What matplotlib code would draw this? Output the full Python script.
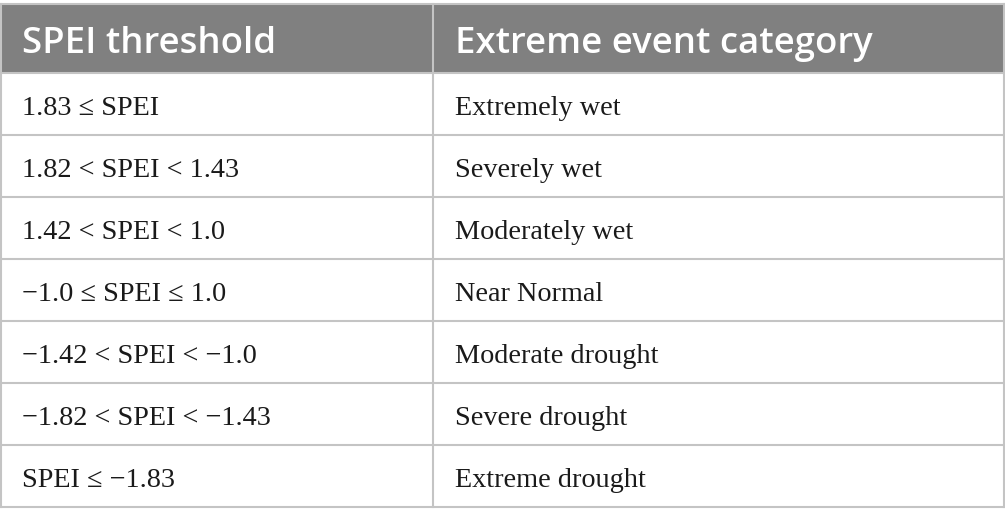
import matplotlib
matplotlib.use("Agg")
import matplotlib.pyplot as plt
from matplotlib.patches import Rectangle

headers = ["SPEI threshold", "Extreme event category"]
thresholds = [
    "1.83 \u2264 SPEI",
    "1.82 < SPEI < 1.43",
    "1.42 < SPEI < 1.0",
    "\u22121.0 \u2264 SPEI \u2264 1.0",
    "\u22121.42 < SPEI < \u22121.0",
    "\u22121.82 < SPEI < \u22121.43",
    "SPEI \u2264 \u22121.83",
]
categories = [
    "Extremely wet",
    "Severely wet",
    "Moderately wet",
    "Near Normal",
    "Moderate drought",
    "Severe drought",
    "Extreme drought",
]

W, H = 1005, 524
fig = plt.figure(figsize=(W / 100, H / 100), dpi=100)
ax = fig.add_axes([0, 0, 1, 1])
ax.set_xlim(0, W)
ax.set_ylim(H, 0)
ax.axis("off")

left, right = 0.5, 1004.0
top, header_bottom = 4.0, 73.0
row_h = 62.0
col_x = 433.0
n = len(thresholds)
bottom = header_bottom + n * row_h
line_col = "#c4c4c4"
head_col = "#808080"

ax.add_patch(Rectangle((left, top), right - left, header_bottom - top,
                       facecolor=head_col, edgecolor="none"))
ax.plot([left, right], [top, top], color=line_col, lw=1.5)
for i in range(n + 1):
    y = header_bottom + i * row_h
    ax.plot([left, right], [y, y], color=line_col, lw=1.5)
ax.plot([left, left], [top, bottom], color=line_col, lw=1.5)
ax.plot([right, right], [top, bottom], color=line_col, lw=1.5)
ax.plot([col_x, col_x], [top, bottom], color=line_col, lw=1.5)

pad = 22
hy = top + 49
hfont = dict(color="white", fontsize=26.3, family="Open Sans",
             fontweight="semibold", va="baseline", ha="left")
ax.text(left + pad, hy, headers[0], **hfont)
ax.text(col_x + pad, hy, headers[1], **hfont)

bfont = dict(color="#1a1a1a", fontsize=20.3,
             family=["Liberation Serif", "DejaVu Serif"],
             va="baseline", ha="left")
for i, (t, c) in enumerate(zip(thresholds, categories)):
    y = header_bottom + i * row_h + 42
    ax.text(left + pad, y, t, **bfont)
    ax.text(col_x + pad, y, c, **bfont)

fig.savefig("out.png", dpi=100, facecolor="white")
